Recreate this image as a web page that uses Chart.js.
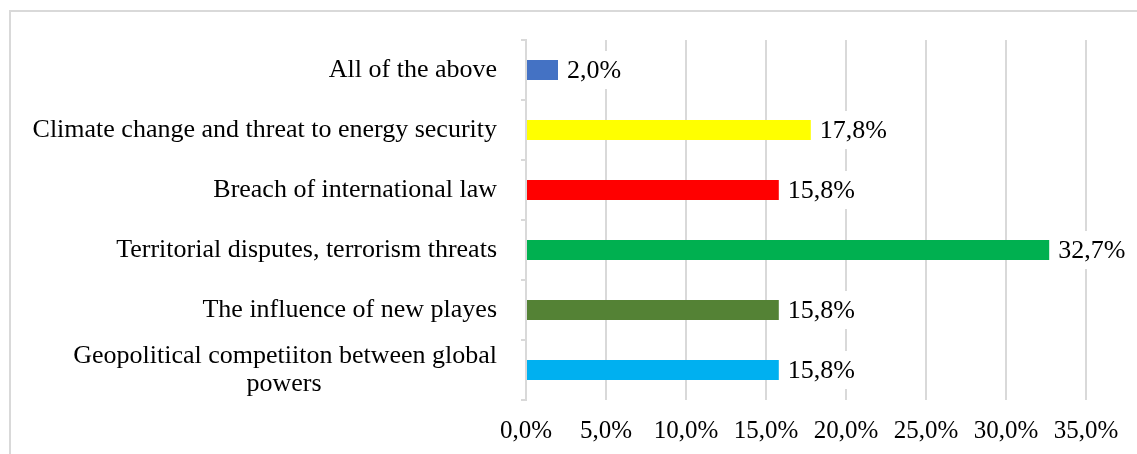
<!DOCTYPE html>
<html>
<head>
<meta charset="utf-8">
<script src="https://cdn.jsdelivr.net/npm/chart.js@4"></script>
<style>
  html, body { margin: 0; padding: 0; background: #ffffff; }
  #wrap { width: 1137px; height: 454px; position: relative; }
</style>
</head>
<body>
<div id="wrap"><canvas id="threatChart"></canvas></div>
<script>
// Categories, top to bottom
const categories = [
  'All of the above',
  'Climate change and threat to energy security',
  'Breach of international law',
  'Territorial disputes, terrorism threats',
  'The influence of new playes',
  ['Geopolitical competiiton between global', 'powers']
];

// Share of answers, in percent
const shares = [2.0, 17.8, 15.8, 32.7, 15.8, 15.8];

const barColors = ['#4472c4', '#ffff00', '#ff0000', '#00b050', '#548235', '#00b0f0'];

// x axis ticks
const xMin = 0;
const xMax = 35;
const xStep = 5;

const serif = "'Liberation Serif', 'Times New Roman', serif";
const gridGray = '#d9d9d9';
const catFontSize = 26;

function fmtPct(v) {
  return v.toFixed(1).replace('.', ',') + '%';
}

// centre the second line of a wrapped label under the first one
const measureCtx = document.createElement('canvas').getContext('2d');
measureCtx.font = catFontSize + 'px ' + serif;
function centreLines(lines) {
  if (!Array.isArray(lines)) return lines;
  const widest = Math.max(...lines.map(l => measureCtx.measureText(l).width));
  const space = measureCtx.measureText(' ').width;
  return lines.map(l => {
    const pad = Math.round((widest - measureCtx.measureText(l).width) / 2 / space);
    return l + ' '.repeat(pad);
  });
}

// light frame round the chart (only top and left edges show)
const framePlugin = {
  id: 'frame',
  beforeDraw(chart) {
    const ctx = chart.ctx;
    ctx.save();
    ctx.strokeStyle = gridGray;
    ctx.lineWidth = 2;
    ctx.strokeRect(10, 11, chart.width + 50, chart.height + 50);
    ctx.restore();
  }
};

// value labels right of each bar, on a white patch
const valueLabels = {
  id: 'valueLabels',
  afterDatasetsDraw(chart) {
    const ctx = chart.ctx;
    const meta = chart.getDatasetMeta(0);
    ctx.save();
    ctx.font = '26px ' + serif;
    ctx.textBaseline = 'middle';
    ctx.textAlign = 'left';
    meta.data.forEach((bar, i) => {
      const txt = fmtPct(shares[i]);
      const w = ctx.measureText(txt).width;
      const x = bar.x + 9;
      ctx.fillStyle = '#ffffff';
      ctx.fillRect(x - 3, bar.y - 19, w + 6, 38);
      ctx.fillStyle = '#000000';
      ctx.fillText(txt, x, bar.y + 1);
    });
    ctx.restore();
  }
};

new Chart(document.getElementById('threatChart'), {
  type: 'bar',
  data: {
    labels: categories,
    datasets: [{
      data: shares,
      backgroundColor: barColors,
      borderWidth: 0,
      categoryPercentage: 1,
      barPercentage: 1 / 3
    }]
  },
  options: {
    indexAxis: 'y',
    responsive: true,
    maintainAspectRatio: false,
    animation: false,
    layout: {
      padding: { top: 40, right: 51, left: 0, bottom: 0 }
    },
    plugins: {
      legend: { display: false },
      tooltip: { enabled: false }
    },
    scales: {
      x: {
        min: xMin,
        max: xMax,
        afterFit(scale) {
          scale.height = 54;
          scale.paddingLeft = 0;
          scale.paddingRight = 0;
        },
        ticks: {
          stepSize: xStep,
          padding: 16,
          color: '#000000',
          font: { family: serif, size: 25 },
          maxRotation: 0,
          autoSkip: false,
          callback: v => fmtPct(v)
        },
        grid: {
          color: gridGray,
          lineWidth: 2,
          drawTicks: false
        },
        border: { display: false }
      },
      y: {
        afterFit(scale) {
          scale.width = 526;
          scale.paddingTop = 0;
          scale.paddingBottom = 0;
        },
        ticks: {
          padding: 24,
          color: '#000000',
          font: { family: serif, size: catFontSize, lineHeight: 1.06 },
          autoSkip: false,
          callback: function(v, i) { return centreLines(categories[i]); }
        },
        grid: {
          drawOnChartArea: false,
          color: gridGray,
          lineWidth: 2,
          tickLength: 5
        },
        border: { color: gridGray, width: 2 }
      }
    }
  },
  plugins: [framePlugin, valueLabels]
});
</script>
</body>
</html>
